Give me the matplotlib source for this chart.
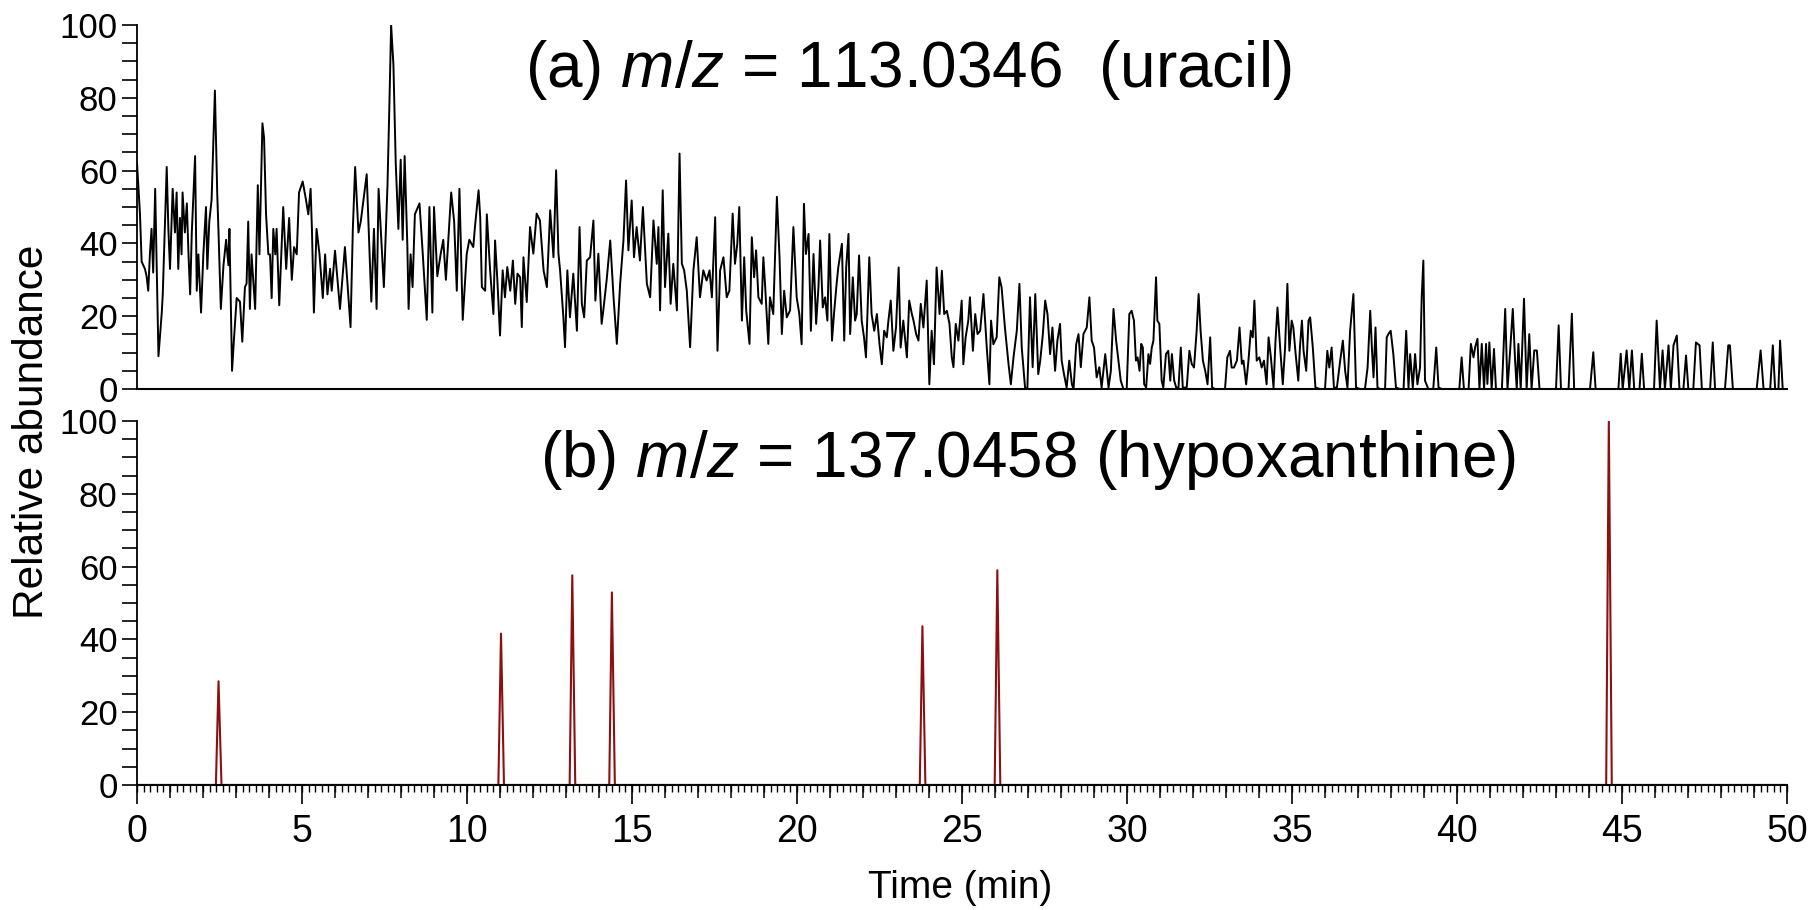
import numpy as np
import matplotlib
matplotlib.use('Agg')
import matplotlib.pyplot as plt

plt.rcParams['font.family'] = 'Liberation Sans'
plt.rcParams['mathtext.fontset'] = 'custom'
plt.rcParams['mathtext.it'] = 'Liberation Sans:italic'
plt.rcParams['mathtext.rm'] = 'Liberation Sans'

# (a) uracil trace, m/z 113.0346 -- time (min), relative abundance (%)
uracil_t = [
    0.00, 0.09, 0.14, 0.24, 0.29, 0.34, 0.39, 0.44, 0.49, 0.55, 0.65, 0.75, 0.78, 0.85, 0.90, 0.95,
    1.00, 1.08, 1.15, 1.20, 1.25, 1.30, 1.35, 1.38, 1.45, 1.51, 1.56, 1.61, 1.66, 1.76, 1.81, 1.86,
    1.94, 2.01, 2.09, 2.13, 2.19, 2.26, 2.36, 2.43, 2.47, 2.54, 2.62, 2.70, 2.77, 2.80, 2.88, 2.94,
    3.02, 3.12, 3.19, 3.27, 3.32, 3.37, 3.42, 3.47, 3.58, 3.66, 3.71, 3.80, 3.85, 3.91, 3.98, 4.03,
    4.08, 4.13, 4.19, 4.23, 4.31, 4.43, 4.52, 4.61, 4.69, 4.76, 4.84, 4.91, 5.02, 5.12, 5.19, 5.26,
    5.30, 5.36, 5.44, 5.53, 5.63, 5.70, 5.77, 5.85, 5.90, 6.00, 6.15, 6.30, 6.47, 6.54, 6.61, 6.71,
    6.78, 6.96, 7.10, 7.18, 7.26, 7.32, 7.48, 7.59, 7.65, 7.70, 7.77, 7.84, 7.92, 7.99, 8.05, 8.11,
    8.19, 8.23, 8.29, 8.35, 8.42, 8.56, 8.66, 8.78, 8.86, 8.95, 9.00, 9.10, 9.20, 9.28, 9.36, 9.52,
    9.61, 9.69, 9.77, 9.87, 9.99, 10.07,
    10.19, 10.24, 10.35, 10.40, 10.45, 10.55, 10.60, 10.70, 10.80, 10.85, 10.92, 11.00, 11.08, 11.15,
    11.22, 11.31, 11.39, 11.46, 11.53, 11.61, 11.66, 11.71, 11.81, 11.91, 12.01, 12.11, 12.21, 12.32,
    12.42, 12.52, 12.62, 12.70, 12.77, 12.82, 12.92, 12.97, 13.04, 13.12, 13.22, 13.33, 13.41, 13.48,
    13.55, 13.63, 13.73, 13.83, 13.89, 13.98, 14.08, 14.13, 14.23, 14.34, 14.44, 14.54, 14.64, 14.74,
    14.82, 14.89, 14.99, 15.06, 15.14, 15.24, 15.33, 15.45, 15.55, 15.65, 15.75, 15.80, 15.85, 15.93,
    16.00, 16.10, 16.17, 16.25, 16.36, 16.44, 16.51, 16.58, 16.66, 16.76, 16.86, 16.96, 17.06, 17.16,
    17.26, 17.35, 17.42, 17.52, 17.59, 17.67, 17.77, 17.87, 17.95, 18.05, 18.12, 18.19, 18.25, 18.33,
    18.40, 18.46, 18.56, 18.63, 18.70, 18.76, 18.83, 18.93, 18.98, 19.03, 19.13, 19.18, 19.28, 19.39,
    19.47, 19.54, 19.61, 19.69, 19.79, 19.89, 19.99, 20.07,
    20.14, 20.21, 20.27, 20.35, 20.42, 20.50, 20.58, 20.65, 20.70, 20.78, 20.85, 20.92, 20.98, 21.06,
    21.12, 21.20, 21.25, 21.36, 21.43, 21.49, 21.56, 21.61, 21.69, 21.76, 21.81, 21.88, 21.96, 22.03,
    22.09, 22.19, 22.26, 22.34, 22.42, 22.50, 22.57, 22.64, 22.72, 22.77, 22.84, 22.92, 23.00, 23.08,
    23.14, 23.22, 23.27, 23.33, 23.40, 23.48, 23.53, 23.61, 23.68, 23.75, 23.83, 23.93, 24.01, 24.08,
    24.15, 24.23, 24.32, 24.39, 24.46, 24.54, 24.62, 24.69, 24.74, 24.81, 24.89, 24.99, 25.04, 25.11,
    25.19, 25.24, 25.33, 25.40, 25.47, 25.55, 25.65, 25.75, 25.83, 25.88, 25.95, 26.05, 26.13, 26.20,
    26.30, 26.41, 26.48, 26.56, 26.66, 26.74, 26.81, 26.91, 26.98, 27.06, 27.14, 27.22, 27.31, 27.37,
    27.45, 27.52, 27.59, 27.67, 27.74, 27.82, 27.89, 27.97, 28.02, 28.09, 28.17, 28.25, 28.33, 28.38,
    28.46, 28.53, 28.60, 28.68, 28.78, 28.86, 28.93, 29.00, 29.08, 29.16, 29.23, 29.34, 29.44, 29.51,
    29.59, 29.67, 29.74, 29.81, 29.89, 29.99, 30.07,
    30.14, 30.21, 30.27, 30.32, 30.38, 30.43, 30.48, 30.52, 30.58, 30.65, 30.70, 30.75, 30.80, 30.88,
    30.92, 30.98, 31.05, 31.10, 31.18, 31.25, 31.31, 31.36, 31.43, 31.49, 31.56, 31.63, 31.69, 31.81,
    31.89, 31.96, 32.03, 32.11, 32.17, 32.23, 32.30, 32.37, 32.44, 32.52, 32.58, 32.67, 32.97, 33.04,
    33.12, 33.17, 33.24, 33.33, 33.41, 33.48, 33.53, 33.61, 33.68, 33.75, 33.81, 33.86, 33.93, 34.01,
    34.08, 34.15, 34.23, 34.29, 34.36, 34.44, 34.50, 34.56, 34.64, 34.72, 34.79, 34.86, 34.92, 34.99,
    35.04, 35.11, 35.19, 35.24, 35.30, 35.35, 35.43, 35.50, 35.55, 35.63, 35.71, 35.85, 36.00, 36.07,
    36.13, 36.20, 36.27, 36.36, 36.46, 36.54, 36.61, 36.68, 36.76, 36.86, 36.94, 37.06, 37.21, 37.29,
    37.37, 37.42, 37.47, 37.53, 37.59, 37.67, 37.82, 37.87, 37.92, 37.99, 38.07, 38.15, 38.27, 38.38,
    38.46, 38.53, 38.58, 38.66, 38.73, 38.80, 38.88, 38.93, 38.98, 39.03, 39.13, 39.28, 39.37, 39.44,
    39.54, 39.89,
    40.07, 40.14, 40.21, 40.35, 40.42, 40.50, 40.55, 40.62, 40.68, 40.75, 40.82, 40.88, 40.92, 40.98,
    41.05, 41.12, 41.18, 41.36, 41.46, 41.53, 41.61, 41.69, 41.76, 41.81, 41.86, 41.93, 42.03, 42.11,
    42.19, 42.26, 42.34, 42.42, 42.50, 42.82, 43.00, 43.08, 43.15, 43.38, 43.48, 43.55, 44.03, 44.13,
    44.20, 44.89, 44.96, 45.02, 45.14, 45.22, 45.30, 45.37, 45.53, 45.60, 45.67, 45.97, 46.05, 46.15,
    46.23, 46.30, 46.41, 46.48, 46.56, 46.66, 46.74, 46.86, 46.94, 47.01, 47.16, 47.24, 47.35, 47.42,
    47.67, 47.75, 47.82, 48.12, 48.22, 48.27, 48.36, 49.08, 49.20, 49.29, 49.49, 49.57, 49.64, 49.74,
    49.79, 49.87, 50.00,
]
uracil_v = [
    62, 48, 35, 33, 31, 27, 37, 44, 32, 55, 9, 21, 26, 46, 61, 44,
    33, 55, 43, 54, 33, 47, 37, 54, 43, 51, 37, 26, 43, 64, 27, 37,
    21, 37, 50, 33, 46, 52, 82, 54, 43, 22, 34, 41, 34, 44, 5, 14,
    25, 24, 13, 28, 29, 46, 22, 37, 22, 56, 37, 73, 69, 48, 37, 37,
    25, 44, 37, 44, 23, 50, 33, 47, 30, 39, 37, 54, 57, 52, 48, 55,
    44, 21, 44, 37, 25, 37, 26, 33, 27, 38, 22, 39, 17, 44, 61, 43,
    46, 59, 24, 44, 22, 55, 28, 56, 79, 100, 89, 62, 44, 63, 41, 64,
    40, 22, 37, 28, 48, 51, 37, 19, 50, 21, 50, 31, 37, 41, 30, 54,
    46, 27, 55, 19, 37, 41,
    39, 44.5, 54.6, 47.2, 28, 27, 48, 32.6, 20.6, 40.8, 29.8, 14.7, 32.6, 25.2,
    33.5, 27, 35.3, 23.4, 31.7, 30.7, 17, 36.2, 23.9, 44.5, 37.2, 48.2, 46.3, 32.6,
    28, 49.1, 36.2, 60.1, 37.2, 32.6, 19.7, 11.5, 32.6, 19.7, 31.7, 16, 44.5, 23.4,
    19.7, 35.3, 36.2, 46.3, 24.3, 37.2, 17.9, 21.6, 29.8, 40.8, 25.2, 12.4, 28.9, 40.8,
    57.3, 38.1, 51.8, 36.2, 44.5, 35.3, 50, 28.9, 25.2, 46.3, 34.4, 44.5, 21.6, 54.6,
    28, 42.7, 23.4, 34.4, 21.6, 64.7, 34.4, 32.6, 27, 11.5, 32.6, 41.7, 25.2, 32.6,
    29.8, 32.6, 25.2, 47.2, 10.5, 32.6, 36.2, 25.2, 27, 48.2, 34.4, 39.9, 50, 18.8,
    36.2, 21.6, 12.4, 41.7, 30.7, 38.1, 25.2, 23.4, 36.2, 28.9, 12.4, 25.2, 20.6, 52.8,
    36.2, 15.1, 27, 19.7, 21.6, 44.5, 25.2, 20.6,
    12.3, 50.9, 37.1, 42.6, 16, 37.1, 17.9, 28, 40.8, 22.4, 25.2, 18.8, 42.6, 13.3,
    20.6, 28.9, 33.4, 39.9, 13.3, 33.4, 42.6, 15.1, 30.7, 18.8, 20.6, 36.7, 18.8, 14.2,
    8.7, 36.2, 20.6, 16, 20.6, 12.3, 6.8, 16, 14.2, 18.8, 24.3, 10.5, 16.9, 33.4,
    11.4, 18.8, 14.2, 8.7, 24.3, 20.6, 18.8, 15.1, 13.3, 23.4, 16.9, 29.8, 1.3, 16,
    6.8, 33.4, 20.6, 32.5, 20.6, 21.5, 17.9, 8.7, 6, 17.9, 13.3, 24.3, 6.8, 14.2,
    18.8, 25.2, 10.5, 20.6, 15.1, 16, 26.1, 11.4, 1.3, 18.8, 12.3, 14.2, 30.7, 27.9,
    16.9, 6.8, 1.3, 8.7, 16, 28.9, 11.4, 0.4, 0, 25.2, 6, 26.1, 4.1, 7.8,
    15.1, 24.3, 20.6, 9.6, 16.9, 5, 13.3, 17.9, 7.8, 4.1, 0.4, 7.8, 1.3, 0,
    12.3, 15.1, 6, 15.1, 16.9, 25.2, 13.3, 11.4, 3.2, 6, 0.4, 9.6, 0.4, 5,
    22, 13.3, 7.8, 2.3, 0, 0, 20.6,
    21.5, 18.8, 7.8, 8.7, 5, 12.4, 11.4, 1.3, 0.4, 9.6, 6.9, 11.4, 13.3, 30.7,
    18.8, 17.9, 2.3, 0.4, 9.6, 10.5, 2.3, 9.6, 2.3, 0.4, 0.4, 11.4, 0.4, 0.4,
    10.5, 6.9, 5.9, 16, 26.1, 16, 7.8, 5, 1.3, 14.2, 0.4, 0, 0, 8.7,
    10.5, 5.9, 5.9, 7.8, 16.9, 6.9, 7.8, 1.3, 7.8, 16, 14.2, 24.3, 7.8, 8.7,
    5.9, 7.8, 1.3, 14.2, 8.7, 0.4, 13.3, 22.4, 11.4, 1.3, 11.4, 28.9, 10.5, 18.8,
    16.9, 9.6, 2.3, 11.4, 18.8, 10.5, 5, 18.8, 19.7, 11.4, 0.4, 0, 0, 10.5,
    5.9, 11.4, 0.4, 0.4, 7.8, 13.3, 5, 0.4, 16, 26.1, 0.4, 0, 0, 5.9,
    21.5, 11.4, 3.2, 16.9, 0.4, 0, 0, 14.2, 15.1, 16, 9.6, 0.4, 0, 0,
    16, 0.4, 9.6, 0.4, 9.6, 1.3, 5.9, 25.2, 35.3, 2.3, 0, 0, 11.4, 0.4,
    0, 0,
    0, 8.7, 0, 0, 12.4, 8.7, 11.5, 13.8, 0, 12.4, 0, 12.4, 1.4, 12.8,
    0, 11, 0, 0, 22, 0, 10.6, 22, 7.8, 0, 12.4, 0, 24.8, 0,
    15.1, 0, 10.6, 10.6, 0, 0, 0, 17.5, 0, 0, 20.7, 0, 0, 10.1,
    0, 0, 9.7, 0, 10.6, 0, 10.6, 0, 0, 9.7, 0, 0, 18.8, 0,
    10.6, 0, 12, 0, 12, 14.7, 0, 0, 9.2, 0, 0, 12.8, 12, 0,
    0, 12.8, 0, 0, 12, 12, 0, 0, 10.6, 0, 0, 12, 0, 0,
    13.3, 0, 0,
]

# (b) hypoxanthine trace, m/z 137.0458 -- narrow peaks on a flat baseline
hypo_t = [0.0,
          2.39, 2.47, 2.56,
          10.95, 11.03, 11.12,
          13.11, 13.19, 13.28,
          14.31, 14.39, 14.48,
          23.72, 23.80, 23.89,
          25.99, 26.07, 26.16,
          44.52, 44.60, 44.69,
          50.0]
hypo_v = [0,
          0, 28.5, 0,
          0, 41.6, 0,
          0, 57.6, 0,
          0, 52.9, 0,
          0, 43.6, 0,
          0, 59.0, 0,
          0, 100, 0,
          0]

fig = plt.figure(figsize=(18.1, 9.1), dpi=100)
ax1 = fig.add_axes([0.0757, 0.5725, 0.9116, 0.4])
ax2 = fig.add_axes([0.0757, 0.1374, 0.9116, 0.4])

ax1.plot(uracil_t, uracil_v, color='black', lw=1.4)
ax2.plot(hypo_t, hypo_v, color='#8b1010', lw=1.5)

for ax in (ax1, ax2):
    ax.set_xlim(0, 50)
    ax.set_ylim(0, 100)
    for s in ('top', 'right'):
        ax.spines[s].set_visible(False)
    ax.spines['left'].set_linewidth(1.3)
    ax.spines['bottom'].set_linewidth(1.5)
    ax.set_yticks([0, 20, 40, 60, 80, 100])
    ax.set_yticks(np.arange(0, 101, 5), minor=True)
    ax.tick_params(axis='y', which='both', direction='out', length=11, width=1.2,
                   labelsize=25, pad=3)

ax1.tick_params(axis='x', which='both', bottom=False, labelbottom=False)

ax2.set_xticks(np.arange(0, 51, 5))
ax2.set_xticks(np.arange(0, 51, 1), minor=True)
ax2.tick_params(axis='x', which='major', direction='out', length=14, width=1.2,
                labelsize=27, pad=7)
ax2.tick_params(axis='x', which='minor', direction='out', length=9.5, width=1.1)
sec = ax2.secondary_xaxis('bottom')
sec.spines['bottom'].set_visible(False)
sec.set_xticks(np.arange(0, 50.01, 0.2))
sec.tick_params(axis='x', direction='out', length=5, width=1.0, labelbottom=False)

fig.text(525 / 1810, 1 - 87 / 910, '(a) $m/z$ = 113.0346  (uracil)',
         fontsize=46, ha='left', va='baseline')
fig.text(540 / 1810, 1 - 477 / 910, '(b) $m/z$ = 137.0458 (hypoxanthine)',
         fontsize=46, ha='left', va='baseline')

fig.text(32 / 1810, 1 - 432 / 910, 'Relative abundance', rotation=90,
         fontsize=30.5, ha='center', va='center')
fig.text(960 / 1810, 1 - 888 / 910, 'Time (min)', fontsize=28,
         ha='center', va='center')

plt.savefig('out.png')
